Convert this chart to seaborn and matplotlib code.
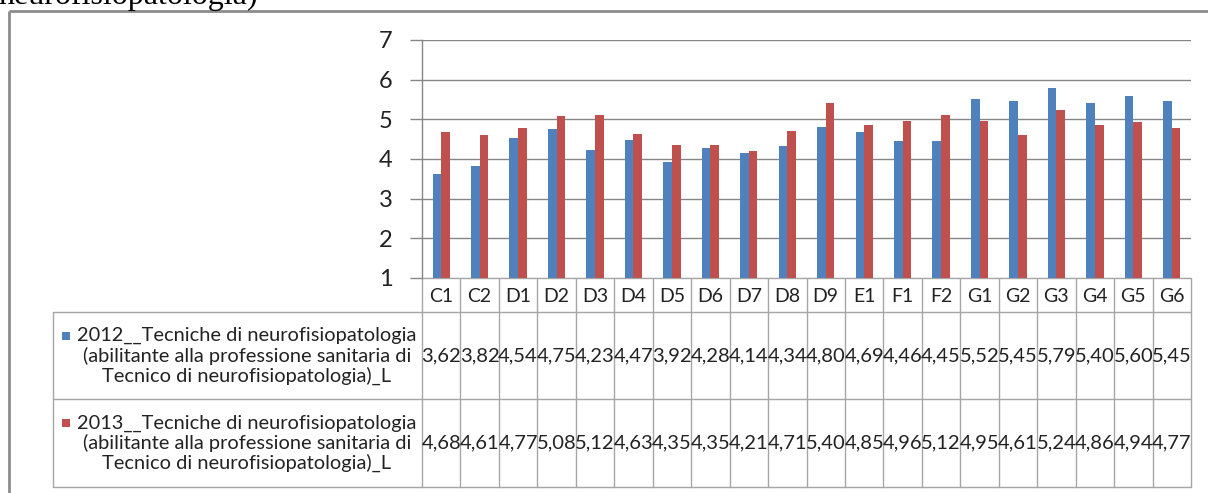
import matplotlib
matplotlib.use("Agg")
import matplotlib.pyplot as plt
import seaborn as sns
import pandas as pd
from matplotlib.patches import Rectangle

categories = ["C1", "C2", "D1", "D2", "D3", "D4", "D5", "D6", "D7", "D8", "D9",
              "E1", "F1", "F2", "G1", "G2", "G3", "G4", "G5", "G6"]
values_2012 = [3.62, 3.82, 4.54, 4.75, 4.23, 4.47, 3.92, 4.28, 4.14, 4.34, 4.80,
               4.69, 4.46, 4.45, 5.52, 5.45, 5.79, 5.40, 5.60, 5.45]
values_2013 = [4.68, 4.61, 4.77, 5.08, 5.12, 4.63, 4.35, 4.35, 4.21, 4.71, 5.40,
               4.85, 4.96, 5.12, 4.95, 4.61, 5.24, 4.86, 4.94, 4.77]
series_years = ["2012", "2013"]
series_label_lines = [
    ["2012__Tecniche di neurofisiopatologia",
     "(abilitante alla professione sanitaria di",
     "Tecnico di neurofisiopatologia)_L"],
    ["2013__Tecniche di neurofisiopatologia",
     "(abilitante alla professione sanitaria di",
     "Tecnico di neurofisiopatologia)_L"],
]
y_ticks = [1, 2, 3, 4, 5, 6, 7]
top_caption = "neurofisiopatologia)"

colors = ["#4F81BD", "#C0504D"]
grid_c = "#868686"
FONT = ["Lato", "DejaVu Sans"]

sns.set_theme(style="white")
plt.rcParams["font.family"] = FONT

W, H = 1208, 493
fig = plt.figure(figsize=(W / 100, H / 100), dpi=100)

# plot area in pixels
L, R, T, B = 422, 1191, 40, 278
ax = fig.add_axes([L / W, 1 - B / H, (R - L) / W, (B - T) / H])

df = pd.DataFrame({
    "cat": categories * 2,
    "val": values_2012 + values_2013,
    "year": [series_years[0]] * len(categories) + [series_years[1]] * len(categories),
})
sns.barplot(data=df, x="cat", y="val", hue="year", order=categories,
            hue_order=series_years, palette=colors, width=0.45, saturation=1,
            edgecolor="none", linewidth=0, legend=False, ax=ax, zorder=3)

ax.set_xlim(-0.5, len(categories) - 0.5)
ax.set_ylim(y_ticks[0], y_ticks[-1])
ax.set_yticks(y_ticks)
ax.set_yticklabels([str(t) for t in y_ticks], fontsize=17, color="#222222")
ax.set_xticks([])
ax.set_xlabel("")
ax.set_ylabel("")
ax.yaxis.grid(True, color=grid_c, linewidth=1.0, zorder=0)
ax.set_axisbelow(True)
for s in ["top", "right", "bottom"]:
    ax.spines[s].set_visible(False)
ax.spines["left"].set_color(grid_c)
ax.spines["left"].set_linewidth(1.0)
ax.tick_params(axis="y", which="major", length=9, width=1.0, color=grid_c,
               direction="out", pad=12, left=True)

# overlay in pixel coordinates for table/frame
ov = fig.add_axes([0, 0, 1, 1], zorder=-1)
ov.set_xlim(0, W)
ov.set_ylim(H, 0)
ov.axis("off")
ov.patch.set_alpha(0)

# chart frame
ov.plot([9, 9], [H + 5, 11], color="#8c8c8c", lw=2.0, solid_capstyle="butt")
ov.plot([9, W + 5], [11, 11], color="#8c8c8c", lw=2.0, solid_capstyle="butt")

# caption cut off at top (as in the reference)
ov.text(-2, 4, top_caption, family="Liberation Serif", fontsize=23,
        ha="left", va="baseline", color="black")

# table geometry derived from category axis
fig.canvas.draw()
def px(xd):
    disp = ax.transData.transform((xd, 0))[0]
    return disp * 100 / fig.dpi

n = len(categories)
borders = [px(i - 0.5) for i in range(n + 1)]
row_y = [B, 312, 399, 487]
leg_left = 53
tc = "#a6a6a6"
lw_t = 1.0
for xb in borders:
    ov.plot([xb, xb], [row_y[0], row_y[-1]], color=tc, lw=lw_t)
ov.plot([leg_left, leg_left], [row_y[1], row_y[-1]], color=tc, lw=lw_t)
ov.plot([borders[0], borders[-1]], [row_y[0], row_y[0]], color=tc, lw=lw_t)
for yb in row_y[1:]:
    ov.plot([leg_left, borders[-1]], [yb, yb], color=tc, lw=lw_t)

# category labels
for i, c in enumerate(categories):
    xc = (borders[i] + borders[i + 1]) / 2
    ov.text(xc, (row_y[0] + row_y[1]) / 2 + 1, c, ha="center", va="center",
            fontsize=14, color="#222222")

# value rows
for r, vals in enumerate([values_2012, values_2013]):
    yc = (row_y[r + 1] + row_y[r + 2]) / 2
    for i, v in enumerate(vals):
        xc = (borders[i] + borders[i + 1]) / 2
        t = ov.text(xc, yc, f"{v:.2f}".replace(".", ","), ha="center",
                    va="center", fontsize=14.5, color="#222222")
        clip = Rectangle((borders[i] + 1, row_y[r + 1]), borders[i + 1] - borders[i] - 1.5,
                         row_y[r + 2] - row_y[r + 1], transform=ov.transData,
                         visible=False)
        ov.add_patch(clip)
        t.set_clip_path(clip)
    lines = series_label_lines[r]
    xcen = 247
    for k, line in enumerate(lines):
        ov.text(xcen, yc + (k - 1) * 20, line, ha="center", va="center",
                fontsize=14.4, color="#222222")
    ov.add_patch(Rectangle((62, yc - 20 - 4), 8, 8, color=colors[r], lw=0))

fig.savefig("out.png", dpi=100)
